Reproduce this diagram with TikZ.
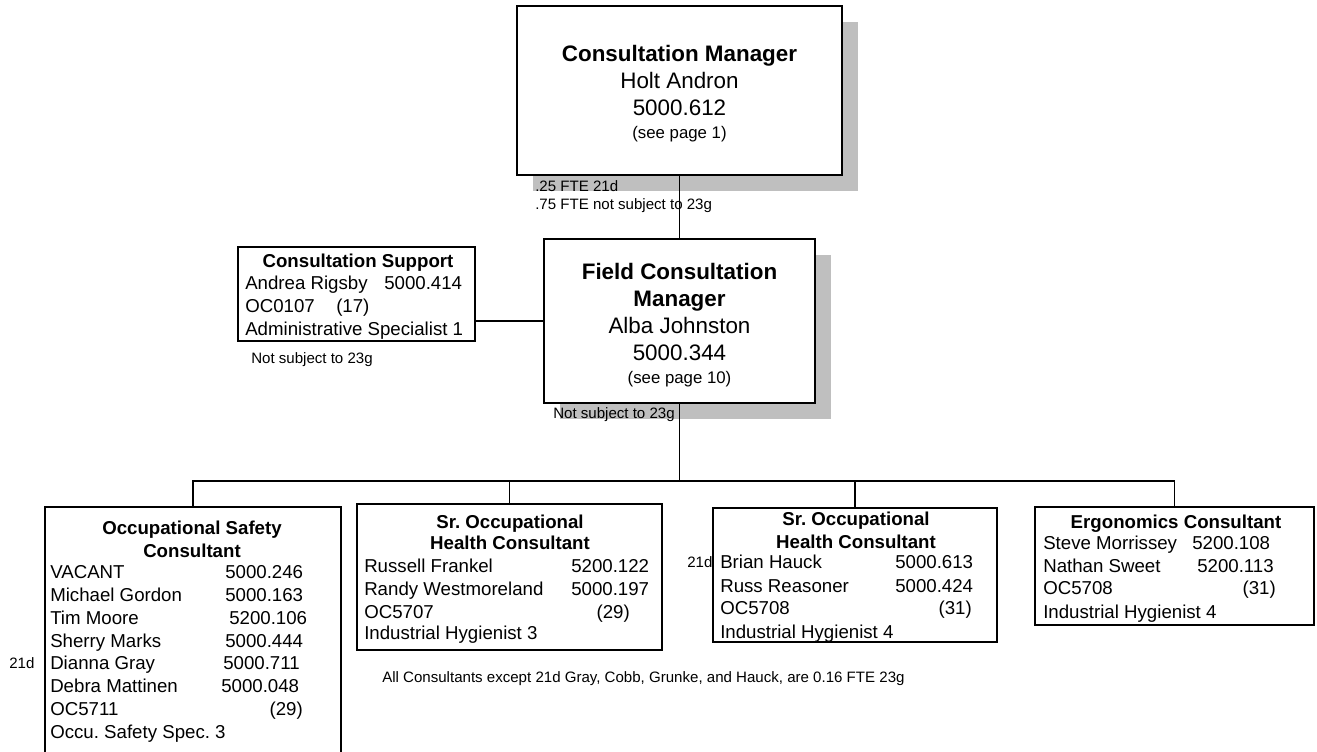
\documentclass[tikz,border=0pt]{standalone}
\usepackage{fontspec}
\setmainfont{Liberation Sans}
\frenchspacing
\usetikzlibrary{fit,shadows}

\tikzset{
  box/.style={draw, line width=1pt, fill=white, inner sep=0pt},
  shbox/.style={box, drop shadow={shadow xshift=12pt, shadow yshift=-12pt, fill=black!25, opacity=1}},
  link/.style={line width=1pt},
  ttl/.style={font=\bfseries\fontsize{16.8}{20}\selectfont, inner sep=0pt, text height=12pt, text depth=0pt},
  big/.style={font=\fontsize{16.8}{20}\selectfont, inner sep=0pt, text height=12pt, text depth=0pt},
  see/.style={font=\fontsize{12.6}{15}\selectfont, inner sep=0pt, text height=9pt, text depth=0pt},
  hd/.style={font=\bfseries\fontsize{14}{17}\selectfont, inner sep=0pt, text height=10pt, text depth=0pt},
  txt/.style={font=\fontsize{14}{17}\selectfont, anchor=west, inner sep=0pt, text height=10pt, text depth=0pt},
  note/.style={font=\fontsize{11.3}{13}\selectfont, anchor=west, inner sep=0pt, text height=8pt, text depth=0pt}
}

\begin{document}
\begin{tikzpicture}[x=0.75pt, y=-0.75pt]
  \useasboundingbox (0,0) rectangle (1317,751);
  \clip (0,0) rectangle (1317,751);

  % Managers
  \node[shbox, fit={(517,6) (842,175)}] (cm) {};
  \node[shbox, fit={(544,239) (815,403)}] (fcm) {};
  \node[box, fit={(238,247) (475,341)}] (sup) {};

  % Consultants
  \node[box, fit={(45,507) (341,770)}] (osc) {};
  \node[box, fit={(357,504) (662,650)}] (ohcA) {};
  \node[box, fit={(713,508) (997,642)}] (ohcB) {};
  \node[box, fit={(1035,507) (1314,625)}] (erg) {};

  % Connectors
  \coordinate (bus) at (679.5,481);
  \draw[link] (cm.south) -- (fcm.north);
  \draw[link] (fcm.west) -- (fcm.west -| sup.east);
  \draw[link] (fcm.south) -- (bus);
  \draw[link] (osc.north) |- (bus) -| (erg.north);
  \draw[link] (ohcA.north) -- (ohcA.north |- bus);
  \draw[link] (ohcB.north) -- (ohcB.north |- bus);

  \node[ttl] (cm-t) at (679.5,53) {Consultation Manager};
  \node[big] (cm-n) at (679.5,80) {Holt Andron};
  \node[big] (cm-p) at (679.5,107) {5000.612};
  \node[see] (cm-s) at (679.5,132) {(see page 1)};
  \node[note] (cm-a) at (535,186) {.25 FTE 21d};
  \node[note] (cm-b) at (535,204) {.75 FTE not subject to 23g};

  \node[ttl] (fcm-t1) at (679.5,271) {Field Consultation};
  \node[ttl] (fcm-t2) at (679.5,298) {Manager};
  \node[big] (fcm-n) at (679.5,325) {Alba Johnston};
  \node[big] (fcm-p) at (679.5,352) {5000.344};
  \node[see] (fcm-s) at (679.5,377) {(see page 10)};
  \node[note] (fcm-a) at (553,413) {Not subject to 23g};

  \node[hd] (sup-t) at (358,261) {Consultation Support};
  \node[txt] (sup-n) at (245,283) {Andrea Rigsby};
  \node[txt] (sup-p) at (384,283) {5000.414};
  \node[txt] (sup-c) at (245,306) {OC0107};
  \node[txt] (sup-r) at (336,306) {(17)};
  \node[txt] (sup-j) at (245,329) {Administrative Specialist 1};
  \node[note] (sup-a) at (251,358) {Not subject to 23g};

  \node[hd] (osc-t1) at (192,528) {Occupational Safety};
  \node[hd] (osc-t2) at (192,551) {Consultant};
  \foreach \y/\nm/\nx/\num [count=\i] in {572/VACANT/225/5000.246, 595/Michael Gordon/225/5000.163,
      618/Tim Moore/229/5200.106, 641/Sherry Marks/225/5000.444, 663/Dianna Gray/223/5000.711,
      686/Debra Mattinen/221/5000.048} {
    \node[txt] (osc-n\i) at (50,\y) {\nm};
    \node[txt] (osc-p\i) at (\nx,\y) {\num};
  }
  \node[txt] (osc-c) at (50,709) {OC5711};
  \node[txt, anchor=east] (osc-r) at (303,709) {(29)};
  \node[txt] (osc-j) at (50,732) {Occu. Safety Spec. 3};
  \node[note] (osc-a) at (9,663) {21d};

  \node[hd] (ohcA-t1) at (510,522) {Sr. Occupational};
  \node[hd] (ohcA-t2) at (510,543) {Health Consultant};
  \node[txt] (ohcA-n1) at (364,566) {Russell Frankel};
  \node[txt] (ohcA-p1) at (571,566) {5200.122};
  \node[txt] (ohcA-n2) at (364,589) {Randy Westmoreland};
  \node[txt] (ohcA-p2) at (571,589) {5000.197};
  \node[txt] (ohcA-c) at (364,612) {OC5707};
  \node[txt, anchor=east] (ohcA-r) at (630,612) {(29)};
  \node[txt] (ohcA-j) at (364,633) {Industrial Hygienist 3};

  \node[hd] (ohcB-t1) at (856,519) {Sr. Occupational};
  \node[hd] (ohcB-t2) at (856,542) {Health Consultant};
  \node[txt] (ohcB-n1) at (720,562) {Brian Hauck};
  \node[txt] (ohcB-p1) at (895,562) {5000.613};
  \node[txt] (ohcB-n2) at (720,586) {Russ Reasoner};
  \node[txt] (ohcB-p2) at (895,586) {5000.424};
  \node[txt] (ohcB-c) at (720,608) {OC5708};
  \node[txt, anchor=east] (ohcB-r) at (972,608) {(31)};
  \node[txt] (ohcB-j) at (720,632) {Industrial Hygienist 4};
  \node[note] (ohcB-a) at (687,562) {21d};

  \node[hd] (erg-t) at (1176,522) {Ergonomics Consultant};
  \node[txt] (erg-n1) at (1043,543) {Steve Morrissey};
  \node[txt] (erg-p1) at (1192,543) {5200.108};
  \node[txt] (erg-n2) at (1043,566) {Nathan Sweet};
  \node[txt] (erg-p2) at (1197,566) {5200.113};
  \node[txt] (erg-c) at (1043,588) {OC5708};
  \node[txt, anchor=east] (erg-r) at (1276,588) {(31)};
  \node[txt] (erg-j) at (1043,612) {Industrial Hygienist 4};

  \node[note] (all) at (382,677) {All Consultants except 21d Gray, Cobb, Grunke, and Hauck, are 0.16 FTE 23g};
\end{tikzpicture}
\end{document}
